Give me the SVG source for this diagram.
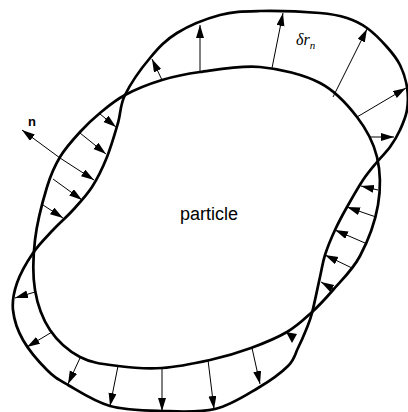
<svg xmlns="http://www.w3.org/2000/svg" width="408" height="412" viewBox="0 0 408 412">
<style>
.curve{fill:none;stroke:#000;stroke-width:2.7;stroke-linejoin:round}
.arr{fill:none;stroke:#000;stroke-width:1;marker-end:url(#ah)}
.lbl{font-family:"Liberation Sans",Arial,sans-serif;fill:#000}
.math{font-family:"Liberation Serif","Times New Roman",serif;font-style:italic;fill:#000}
</style>
<defs>
<marker id="ah" markerUnits="userSpaceOnUse" markerWidth="14" markerHeight="9" refX="13" refY="4" orient="auto">
<path d="M0,0 L13,4 L0,8 z" fill="#000"/>
</marker>
</defs>
<rect width="408" height="412" fill="#fff"/>
<g id="particle">
<path class="curve" d="M125,95 C135.3,89.5 149.5,83.8 162,80 C174.5,76.2 183.7,74.2 200,72 C216.3,69.8 240,65.2 260,67 C280,68.8 303.8,74.7 320,83 C336.2,91.3 347.5,104.7 357,117 C366.5,129.3 373.5,142.3 377,157 C380.5,171.7 380.8,188.5 378,205 C375.2,221.5 367.5,241.8 360,256 C352.5,270.2 341.2,280.5 333,290 C324.8,299.5 318.7,306 311,313 C303.3,320 297,326.2 287,332 C277,337.8 263.8,343.3 251,348 C238.2,352.7 224.8,356.7 210,360 C195.2,363.3 177.3,367 162,368 C146.7,369 131.7,367.8 118,366 C104.3,364.2 91.3,363 80,357 C68.7,351 57.5,341.2 50,330 C42.5,318.8 37.5,305 35,290 C32.5,275 33,257.2 35,240 C37,222.8 42.8,200.8 47,187 C51.2,173.2 54.5,166.2 60,157 C65.5,147.8 73.3,139.3 80,132 C86.7,124.7 92.5,119.2 100,113 C107.5,106.8 114.7,100.5 125,95 Z"/>
<text class="lbl" x="180" y="220" font-size="18">particle</text>
</g>
<g id="deformed">
<path class="curve" d="M125,95 C130.3,84.2 141.3,68.3 150,58 C158.7,47.7 165.3,40.2 177,33 C188.7,25.8 206.2,18.7 220,15 C233.8,11.3 243.3,11.3 260,11 C276.7,10.7 305.5,11.8 320,13 C334.5,14.2 339.2,15.5 347,18 C354.8,20.5 360.3,23.2 367,28 C373.7,32.8 381.5,40.8 387,47 C392.5,53.2 396.7,58.3 400,65 C403.3,71.7 405.8,79.5 407,87 C408.2,94.5 408.2,102.8 407,110 C405.8,117.2 402.8,123.8 400,130 C397.2,136.2 393.8,141.7 390,147 C386.2,152.3 381.5,156.5 377,162 C372.5,167.5 368,172.5 363,180 C358,187.5 351.7,198.7 347,207 C342.3,215.3 338.7,222 335,230 C331.3,238 327.5,247.2 325,255 C322.5,262.8 322.2,267.3 320,277 C317.8,286.7 314.3,304.2 312,313 C309.7,321.8 308.3,324.2 306,330 C303.7,335.8 301,342 298,348 C295,354 294.7,359.3 288,366 C281.3,372.7 270.2,380.8 258,388 C245.8,395.2 231,405.2 215,409 C199,412.8 179.5,411.5 162,411 C144.5,410.5 125.7,410.3 110,406 C94.3,401.7 78.5,391 68,385 C57.5,379 54.5,377.5 47,370 C39.5,362.5 28.7,350 23,340 C17.3,330 14,319.5 13,310 C12,300.5 13.7,292.5 17,283 C20.3,273.5 27,261.8 33,253 C39,244.2 46.3,237.2 53,230 C59.7,222.8 66.5,217.2 73,210 C79.5,202.8 86.3,195.8 92,187 C97.7,178.2 102.7,167.7 107,157 C111.3,146.3 115,133.3 118,123 C121,112.7 119.7,105.8 125,95 Z"/>
</g>
<g id="connectors">
<line class="arr" x1="162" y1="80" x2="152" y2="59"/>
<line class="arr" x1="200" y1="72" x2="200" y2="25"/>
<line class="arr" x1="272" y1="68" x2="283" y2="13"/>
<line class="arr" x1="333" y1="97" x2="367" y2="29"/>
<line class="arr" x1="357" y1="117" x2="406" y2="88"/>
<line class="arr" x1="370" y1="137" x2="394" y2="137"/>
<line class="arr" x1="378" y1="190" x2="361" y2="186"/>
<line class="arr" x1="376" y1="217" x2="347" y2="207"/>
<line class="arr" x1="365" y1="243" x2="335" y2="230"/>
<line class="arr" x1="352" y1="268" x2="325" y2="255"/>
<line class="arr" x1="333" y1="289" x2="321" y2="282"/>
<polygon points="286,332 297,334 292,343" fill="#000"/>
<line class="arr" x1="252" y1="348" x2="260" y2="384"/>
<line class="arr" x1="208" y1="360" x2="214" y2="409"/>
<line class="arr" x1="162" y1="368" x2="162" y2="411"/>
<line class="arr" x1="118" y1="366" x2="110" y2="406"/>
<line class="arr" x1="80" y1="358" x2="68" y2="384"/>
<line class="arr" x1="52" y1="332" x2="27" y2="347"/>
<line class="arr" x1="35" y1="292" x2="15" y2="298"/>
<line class="arr" x1="43" y1="205" x2="63" y2="218"/>
<line class="arr" x1="53" y1="179" x2="82" y2="200"/>
<line class="arr" x1="60" y1="158" x2="94" y2="180"/>
<line class="arr" x1="80" y1="133" x2="106" y2="154"/>
<line class="arr" x1="100" y1="114" x2="116" y2="127"/>
<line class="arr" x1="60" y1="158" x2="22" y2="130"/>
</g>
<text class="lbl" x="28" y="126" font-size="13" font-weight="bold">n</text>
<text class="math" x="296" y="45" font-size="16">δr<tspan font-size="11" dy="4">n</tspan></text>
</svg>
